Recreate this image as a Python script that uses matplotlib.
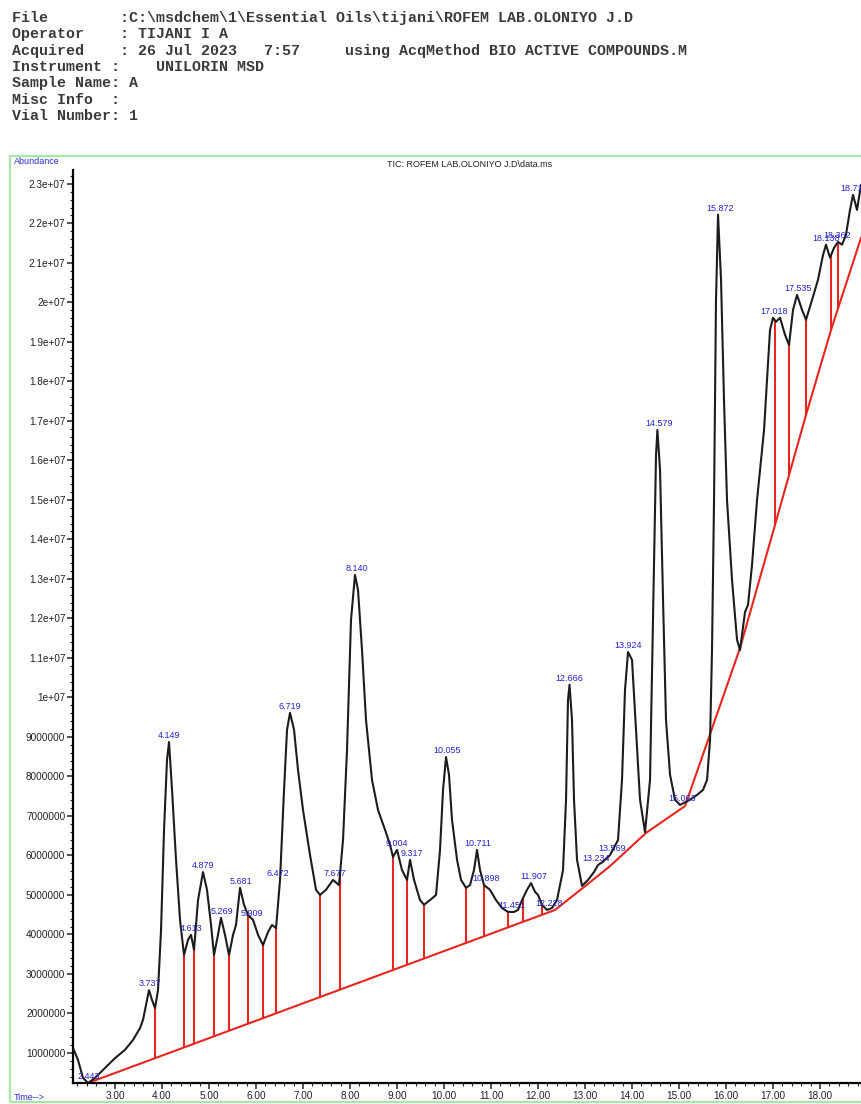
import matplotlib
matplotlib.use('Agg')
import matplotlib.pyplot as plt
import numpy as np
from matplotlib.ticker import MultipleLocator, FuncFormatter
from matplotlib.patches import Rectangle

# header lines of the report
header_lines = [
    "File        :C:\\msdchem\\1\\Essential Oils\\tijani\\ROFEM LAB.OLONIYO J.D",
    "Operator    : TIJANI I A",
    "Acquired    : 26 Jul 2023   7:57     using AcqMethod BIO ACTIVE COMPOUNDS.M",
    "Instrument :    UNILORIN MSD",
    "Sample Name: A",
    "Misc Info  :",
    "Vial Number: 1",
]

# TIC trace (time in min, abundance in millions)
times = [2.106, 2.213, 2.319, 2.426, 2.574, 2.787, 3.000, 3.213, 3.383, 3.532,
         3.596, 3.660, 3.723, 3.787, 3.851, 3.915, 3.979, 4.043, 4.106, 4.149,
         4.213, 4.298, 4.383, 4.468, 4.553, 4.617, 4.681, 4.766, 4.872, 4.957,
         5.043, 5.106, 5.191, 5.255, 5.340, 5.426, 5.511, 5.574, 5.660, 5.745,
         5.830, 5.936, 6.043, 6.149, 6.255, 6.340, 6.426, 6.511, 6.596, 6.660,
         6.723, 6.809, 6.894, 7.000, 7.149, 7.277, 7.362, 7.489, 7.638, 7.766,
         7.851, 7.936, 8.021, 8.106, 8.170, 8.255, 8.340, 8.468, 8.596, 8.745,
         8.851, 8.915, 9.000, 9.106, 9.213, 9.277, 9.362, 9.489, 9.574, 9.702,
         9.830, 9.915, 9.979, 10.043, 10.106, 10.170, 10.277, 10.362, 10.468, 10.553,
         10.638, 10.702, 10.766, 10.851, 10.979, 11.106, 11.234, 11.362, 11.489, 11.574,
         11.660, 11.766, 11.851, 11.936, 12.000, 12.085, 12.191, 12.298, 12.404, 12.532,
         12.596, 12.638, 12.670, 12.723, 12.766, 12.830, 12.936, 13.064, 13.191, 13.277,
         13.383, 13.532, 13.702, 13.787, 13.851, 13.915, 14.000, 14.085, 14.170, 14.277,
         14.383, 14.447, 14.511, 14.540, 14.596, 14.660, 14.723, 14.809, 14.915, 15.021,
         15.234, 15.383, 15.511, 15.596, 15.660, 15.702, 15.745, 15.787, 15.830, 15.894,
         15.957, 16.021, 16.128, 16.234, 16.298, 16.404, 16.468, 16.553, 16.660, 16.809,
         16.936, 17.000, 17.064, 17.149, 17.255, 17.340, 17.426, 17.511, 17.617, 17.702,
         17.830, 17.957, 18.064, 18.128, 18.213, 18.298, 18.383, 18.468, 18.553, 18.638,
         18.702, 18.787, 18.872]
abund = [1.13, 0.82, 0.37, 0.24, 0.37, 0.62, 0.87, 1.08, 1.33, 1.63,
         1.84, 2.22, 2.59, 2.34, 2.14, 2.59, 4.11, 6.65, 8.42, 8.87,
         7.66, 5.89, 4.37, 3.48, 3.86, 3.99, 3.61, 4.87, 5.58, 5.13,
         4.24, 3.48, 3.99, 4.42, 3.99, 3.48, 3.99, 4.24, 5.18, 4.75,
         4.49, 4.37, 3.99, 3.73, 4.06, 4.24, 4.16, 5.38, 7.66, 9.18,
         9.61, 9.18, 8.16, 7.15, 6.01, 5.13, 5.00, 5.13, 5.38, 5.25,
         6.39, 8.67, 11.96, 13.10, 12.72, 11.20, 9.43, 7.91, 7.15, 6.65,
         6.27, 5.96, 6.14, 5.63, 5.38, 5.89, 5.38, 4.87, 4.75, 4.87,
         5.00, 6.14, 7.66, 8.49, 8.04, 6.90, 5.89, 5.38, 5.18, 5.25,
         5.63, 6.14, 5.63, 5.25, 5.13, 4.87, 4.67, 4.57, 4.57, 4.62,
         4.87, 5.13, 5.30, 5.08, 5.00, 4.75, 4.62, 4.67, 4.87, 5.63,
         7.41, 9.94, 10.32, 9.43, 7.41, 5.89, 5.23, 5.38, 5.58, 5.76,
         5.84, 6.01, 6.39, 7.91, 10.19, 11.15, 10.95, 9.18, 7.41, 6.59,
         7.91, 11.96, 16.14, 16.77, 15.76, 12.47, 9.43, 8.04, 7.41, 7.28,
         7.41, 7.53, 7.66, 7.91, 8.92, 11.20, 15.00, 20.06, 22.22, 20.57,
         17.53, 15.00, 12.97, 11.46, 11.20, 12.16, 12.34, 13.35, 15.00, 16.77,
         19.30, 19.61, 19.51, 19.61, 19.18, 18.92, 19.81, 20.19, 19.81, 19.56,
         20.06, 20.57, 21.20, 21.46, 21.13, 21.38, 21.53, 21.46, 21.71, 22.34,
         22.72, 22.34, 22.97]

# integration baseline anchors
base_t = [2.426, 12.362, 12.957, 13.532, 14.298, 15.128, 16.298, 17.043, 17.702, 18.234, 18.872]
base_v = [0.24, 4.62, 5.18, 5.73, 6.57, 7.25, 11.25, 14.37, 17.15, 19.30, 21.63]

# peak split (drop) lines
drop_times = [3.851, 4.468, 4.681, 5.106, 5.426, 5.830, 6.149, 6.426, 7.362, 7.787,
              8.915, 9.213, 9.574, 10.468, 10.851, 11.362, 11.681, 12.085,
              17.043, 17.340, 17.702, 18.234, 18.383]

# labelled retention times
peak_times = [2.443, 3.737, 4.149, 4.613, 4.879, 5.269, 5.681, 5.909, 6.472, 6.719,
              7.677, 8.140, 9.004, 9.317, 10.055, 10.711, 10.898, 11.451, 11.907,
              12.228, 12.666, 13.234, 13.569, 13.924, 14.579, 15.063, 15.872,
              17.018, 17.535, 18.138, 18.362, 18.711]

yticks = [i * 1e6 for i in range(1, 24)]


def fmt_y(v, pos):
    if v >= 1e7:
        return f"{v:g}"
    return str(int(round(v)))


def main():
    plt.rcParams['font.family'] = ['Liberation Sans', 'DejaVu Sans']
    fig = plt.figure(figsize=(8.61, 11.04), dpi=100)
    W, H = 861.0, 1104.0

    # header text
    for i, line in enumerate(header_lines):
        fig.text(12 / W, 1 - (18 + i * 16.3) / H, line, family='Liberation Mono',
                 fontsize=10.8, weight='bold', color='#3a3a3a', va='center', ha='left')

    # green frame
    fig.patches.append(Rectangle((10 / W, 2 / H), 1.0, (1102 - 156) / H,
                                 transform=fig.transFigure, fill=False,
                                 edgecolor='#a6e8a6', lw=1.6))
    fig.text(14 / W, 1 - 161 / H, "Abundance", color='#2a2ad8', fontsize=6.5,
             va='center', ha='left')
    fig.text(470 / W, 1 - 165 / H, "TIC: ROFEM LAB.OLONIYO J.D\\data.ms",
             color='#222222', fontsize=6.5, va='center', ha='center')
    fig.text(14 / W, 1 - 1098 / H, "Time-->", color='#2a2ad8', fontsize=6.5,
             va='center', ha='left')

    ax = fig.add_axes([73 / W, (H - 1083) / H, (W - 73) / W, (1083 - 170) / H])
    t = np.array(times)
    a = np.array(abund) * 1e6
    bt = np.array(base_t)
    bv = np.array(base_v) * 1e6

    red = '#e8251e'
    ax.plot(bt, bv, color=red, lw=1.5, zorder=2)
    for d in drop_times:
        ax.vlines(d, np.interp(d, bt, bv), np.interp(d, t, a), color=red, lw=1.5, zorder=2)
    ax.plot(t, a, color='#1c1c1c', lw=1.5, zorder=3)

    for p in peak_times:
        m = (t >= p - 0.06) & (t <= p + 0.06)
        top = a[m].max() if m.any() else np.interp(p, t, a)
        ax.annotate(f"{p:.3f}", (p, top), xytext=(0, 1.5), textcoords='offset points',
                    ha='center', va='bottom', fontsize=6.5, color='#2323d6', zorder=4,
                    annotation_clip=False)

    ax.set_xlim(2.106, 18.872)
    ax.set_ylim(0.24e6, 23.35e6)
    ax.set_yticks(yticks)
    ax.yaxis.set_major_formatter(FuncFormatter(fmt_y))
    ax.yaxis.set_minor_locator(MultipleLocator(2e5))
    ax.xaxis.set_major_locator(MultipleLocator(1.0))
    ax.xaxis.set_minor_locator(MultipleLocator(0.2))
    ax.xaxis.set_major_formatter(FuncFormatter(lambda v, p: f"{v:.2f}"))

    ax.spines['top'].set_visible(False)
    ax.spines['right'].set_visible(False)
    ax.spines['left'].set_linewidth(1.6)
    ax.spines['bottom'].set_linewidth(1.6)
    ax.tick_params(axis='both', which='major', labelsize=7.2, colors='#222222',
                   length=4, width=1.1, pad=1.5)
    ax.tick_params(axis='both', which='minor', length=2.5, width=0.8, colors='#222222')
    ax.patch.set_alpha(0)

    fig.savefig('out.png', dpi=100)


if __name__ == "__main__":
    main()
